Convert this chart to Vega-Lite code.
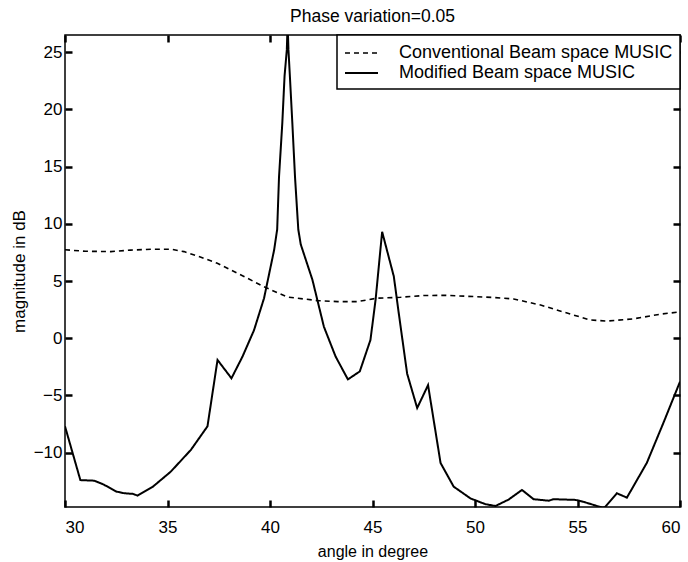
{
  "$schema": "https://vega.github.io/schema/vega-lite/v6.json",
  "autosize": "none",
  "width": 615,
  "height": 472,
  "padding": {"left": 65, "top": 35, "right": 8, "bottom": 55},
  "background": "white",
  "title": {"text": "Phase variation=0.05", "font": "Liberation Sans", "fontSize": 17.5, "fontWeight": "normal", "color": "black", "anchor": "middle", "offset": 8},
  "datasets": {
    "conv": [
      {"a": 30, "m": 7.73}, {"a": 31, "m": 7.6}, {"a": 32.24, "m": 7.57}, {"a": 33.2, "m": 7.7},
      {"a": 34.19, "m": 7.78}, {"a": 35.16, "m": 7.78}, {"a": 35.81, "m": 7.57}, {"a": 36.6, "m": 7.1},
      {"a": 37.43, "m": 6.55}, {"a": 38.73, "m": 5.4}, {"a": 39.7, "m": 4.5}, {"a": 40.85, "m": 3.6},
      {"a": 42.31, "m": 3.29}, {"a": 43.3, "m": 3.2}, {"a": 44.26, "m": 3.2}, {"a": 45.23, "m": 3.5},
      {"a": 46.37, "m": 3.58}, {"a": 47.5, "m": 3.73}, {"a": 48.5, "m": 3.75}, {"a": 49.94, "m": 3.64},
      {"a": 51.0, "m": 3.55}, {"a": 51.89, "m": 3.43}, {"a": 53.2, "m": 2.9}, {"a": 54.49, "m": 2.2},
      {"a": 55.6, "m": 1.6}, {"a": 56.43, "m": 1.5}, {"a": 57.73, "m": 1.69}, {"a": 59.03, "m": 2.1},
      {"a": 60, "m": 2.3}
    ],
    "mod": [
      {"a": 30, "m": -7.7}, {"a": 30.75, "m": -12.4}, {"a": 31.43, "m": -12.45}, {"a": 31.9, "m": -12.8},
      {"a": 32.5, "m": -13.4}, {"a": 32.9, "m": -13.55}, {"a": 33.3, "m": -13.6}, {"a": 33.54, "m": -13.75},
      {"a": 34.27, "m": -13.0}, {"a": 35.16, "m": -11.66}, {"a": 36.14, "m": -9.76}, {"a": 36.95, "m": -7.7},
      {"a": 37.44, "m": -1.9}, {"a": 38.12, "m": -3.5}, {"a": 38.66, "m": -1.6}, {"a": 39.22, "m": 0.7},
      {"a": 39.71, "m": 3.5}, {"a": 40.2, "m": 7.7}, {"a": 40.35, "m": 9.5}, {"a": 40.44, "m": 14.1},
      {"a": 40.6, "m": 18.8}, {"a": 40.71, "m": 22.9}, {"a": 40.82, "m": 25.2}, {"a": 40.86, "m": 27.5},
      {"a": 40.9, "m": 25.2}, {"a": 40.97, "m": 22.9}, {"a": 41.09, "m": 18.8}, {"a": 41.22, "m": 14.1},
      {"a": 41.38, "m": 9.5}, {"a": 41.5, "m": 8.2}, {"a": 42.07, "m": 5.1}, {"a": 42.63, "m": 1.0},
      {"a": 43.2, "m": -1.6}, {"a": 43.8, "m": -3.6}, {"a": 44.38, "m": -2.9}, {"a": 44.9, "m": -0.15},
      {"a": 45.15, "m": 3.35}, {"a": 45.47, "m": 9.3}, {"a": 46.04, "m": 5.4}, {"a": 46.28, "m": 2.2},
      {"a": 46.69, "m": -3.1}, {"a": 47.18, "m": -6.1}, {"a": 47.71, "m": -4.1}, {"a": 48.32, "m": -10.9},
      {"a": 48.96, "m": -12.97}, {"a": 49.78, "m": -14.0}, {"a": 50.5, "m": -14.5}, {"a": 51.0, "m": -14.66},
      {"a": 51.64, "m": -14.1}, {"a": 52.29, "m": -13.26}, {"a": 52.86, "m": -14.07}, {"a": 53.59, "m": -14.2},
      {"a": 53.83, "m": -14.07}, {"a": 54.9, "m": -14.13}, {"a": 55.3, "m": -14.3}, {"a": 56.2, "m": -14.8},
      {"a": 56.35, "m": -14.75}, {"a": 56.92, "m": -13.55}, {"a": 57.41, "m": -13.93}, {"a": 58.38, "m": -10.9},
      {"a": 59.19, "m": -7.4}, {"a": 60, "m": -3.8}
    ]
  },
  "layer": [
    {
      "data": {"name": "conv"},
      "transform": [{"calculate": "'Conventional Beam space MUSIC'", "as": "s"}],
      "mark": {"type": "line", "clip": true, "color": "black"},
      "encoding": {
        "x": {"field": "a", "type": "quantitative", "scale": {"domain": [30, 60], "nice": false, "zero": false},
              "axis": {"orient": "bottom", "title": "angle in degree", "titleFontSize": 16, "values": [30, 35, 40, 45, 50, 55, 60], "labelPadding": 12, "titlePadding": 8}},
        "y": {"field": "m", "type": "quantitative", "scale": {"domain": [-14.75, 26.5], "nice": false, "zero": false},
              "axis": {"orient": "left", "title": "magnitude in dB", "values": [-10, -5, 0, 5, 10, 15, 20, 25], "labelPadding": 3, "titlePadding": 5}},
        "strokeDash": {"field": "s", "type": "nominal",
          "scale": {"domain": ["Conventional Beam space MUSIC", "Modified Beam space MUSIC"], "range": [[5, 4], [1, 0]]},
          "legend": {"title": null}},
        "strokeWidth": {"field": "s", "type": "nominal",
          "scale": {"domain": ["Conventional Beam space MUSIC", "Modified Beam space MUSIC"], "range": [1.6, 2]},
          "legend": {"title": null}}
      }
    },
    {
      "data": {"name": "mod"},
      "transform": [{"calculate": "'Modified Beam space MUSIC'", "as": "s"}],
      "mark": {"type": "line", "clip": true, "color": "black"},
      "encoding": {
        "x": {"field": "a", "type": "quantitative",
              "axis": {"orient": "top", "title": null, "labels": false, "values": [30, 35, 40, 45, 50, 55, 60]}},
        "y": {"field": "m", "type": "quantitative",
              "axis": {"orient": "right", "title": null, "labels": false, "values": [-10, -5, 0, 5, 10, 15, 20, 25]}},
        "strokeDash": {"field": "s", "type": "nominal", "legend": {"title": null}},
        "strokeWidth": {"field": "s", "type": "nominal", "legend": {"title": null}}
      }
    }
  ],
  "resolve": {"axis": {"x": "independent", "y": "independent"}},
  "config": {
    "view": {"stroke": "black", "strokeWidth": 1.5},
    "axis": {
      "grid": false, "domain": false, "offset": -7, "tickColor": "black", "tickSize": 7, "tickWidth": 2.5,
      "labelFont": "Liberation Sans", "labelFontSize": 17, "labelColor": "black",
      "titleFont": "Liberation Sans", "titleFontSize": 17, "titleFontWeight": "normal", "titleColor": "black"
    },
    "legend": {
      "orient": "top-right", "offset": 0, "fillColor": "white", "strokeColor": "black", "strokeWidth": 1.5,
      "padding": 7, "rowPadding": 0, "symbolType": "M-1.65,0H1.65", "symbolSize": 400, "symbolStrokeColor": "black",
      "symbolOffset": 6.5, "labelOffset": 26.5, "labelLimit": 0,
      "labelFont": "Liberation Sans", "labelFontSize": 18, "labelColor": "black"
    }
  }
}
